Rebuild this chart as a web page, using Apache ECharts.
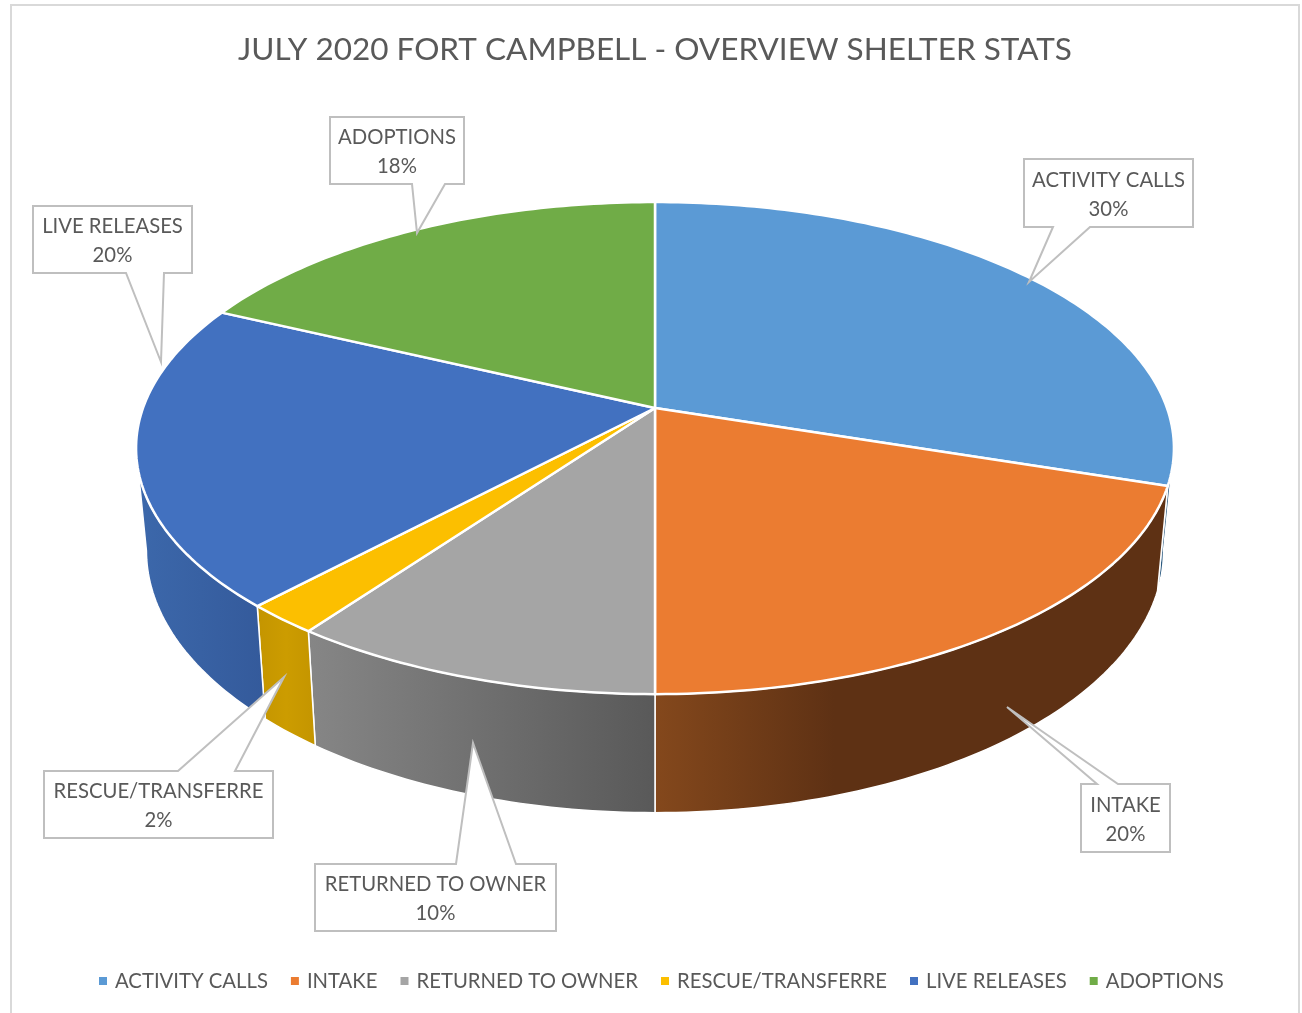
<!DOCTYPE html>
<html>
<head>
<meta charset="utf-8">
<title>JULY 2020 FORT CAMPBELL - OVERVIEW SHELTER STATS</title>
<script src="https://cdn.jsdelivr.net/npm/echarts@6/dist/echarts.min.js"></script>
<style>
  html, body { margin: 0; padding: 0; background: #fff; }
  #main { width: 1302px; height: 1013px; }
</style>
</head>
<body>
<div id="main"></div>
<script>
  // chart data
  const chartTitle = 'JULY 2020 FORT CAMPBELL - OVERVIEW SHELTER STATS'
  const categories = ['ACTIVITY CALLS', 'INTAKE', 'RETURNED TO OWNER', 'RESCUE/TRANSFERRE', 'LIVE RELEASES', 'ADOPTIONS']
  const shares = [30, 20, 10, 2, 20, 18]

  // colours of the top faces and the gradient of the side faces
  const topColors = ['#5b9ad5', '#eb7c31', '#a5a5a5', '#fcbf00', '#4271c0', '#70ac47']
  const sideStops = [
    [[0, '#2c5a80'], [1, '#2c5a80']],
    [[0, '#84481c'], [0.35, '#5e3114'], [1, '#5e3114']],
    [[0, '#868686'], [1, '#595959']],
    [[0, '#c49500'], [0.5, '#cc9c00'], [1, '#c49500']],
    [[0, '#3c68ab'], [1, '#345a9b']],
    [[0, '#70ad47'], [1, '#70ad47']]
  ]

  // callout boxes: [left, top, right, bottom, base1, base2, tipX, tipY, side of the box]
  const callouts = [
    [1024, 159, 1193, 227, 1053, 1090, 1029, 282, 'bottom'],
    [1081, 784, 1170, 852, 1097, 1118, 1007, 707, 'top'],
    [315, 864, 556, 931, 456, 516, 473, 743, 'top'],
    [44, 771, 273, 838, 178, 235, 284, 677, 'top'],
    [33, 206, 192, 273, 126, 164, 161, 362, 'bottom'],
    [330, 117, 464, 184, 412, 445, 417, 233, 'bottom']
  ]

  // perspective of the tilted pie
  const cx = 655, apexY = 408, rimA = 512, rimB = 239.5, tilt = 0.163
  const floorY = 508, floorB = 255, floorScale = 0.98
  const total = shares.reduce((a, b) => a + b, 0)
  const visibleFrom = 99.4, visibleTo = 260.6

  function toDeg(v) { return v / total * 360 }

  // point of the top rim, deg is clockwise from 12 o'clock
  function topPoint(deg) {
    let r = deg * Math.PI / 180
    let X = Math.sin(r), Y = -Math.cos(r)
    let d = 1 - tilt * Y
    return [cx + rimA * X / d, apexY + rimB * Y / d]
  }
  function floorPoint(deg) {
    let r = deg * Math.PI / 180
    let X = Math.sin(r), Y = -Math.cos(r)
    let d = 1 - tilt * Y
    return [cx + floorScale * rimA * X / d, floorY + floorB * Y / d]
  }
  function arc(fn, from, to) {
    let pts = []
    let n = Math.max(2, Math.ceil(Math.abs(to - from)))
    for (let i = 0; i <= n; i++) pts.push(fn(from + (to - from) * i / n))
    return pts
  }

  function renderSlice(i, params, api) {
    let value = api.value(0)
    let before = shares.slice(0, i).reduce((a, b) => a + b, 0)
    let a1 = toDeg(before), a2 = toDeg(before + value)
    let children = []

    // side wall, only the part that faces the viewer
    let s1 = Math.max(a1, visibleFrom), s2 = Math.min(a2, visibleTo)
    if (s2 > s1) {
      let pts = arc(topPoint, s1, s2).concat(arc(floorPoint, s2, s1))
      let xs = pts.map(p => p[0])
      let x0 = Math.min.apply(null, xs), x1 = Math.max.apply(null, xs)
      children.push({
        type: 'polygon',
        z2: 1,
        shape: { points: pts },
        style: {
          fill: {
            type: 'linear', x: x0, y: 0, x2: x1, y2: 0, global: true,
            colorStops: sideStops[i].map(s => ({ offset: s[0], color: s[1] }))
          },
          stroke: '#fff', lineWidth: 1.5, lineJoin: 'round'
        }
      })
    }

    // top face
    children.push({
      type: 'polygon',
      z2: 10,
      shape: { points: [[cx, apexY]].concat(arc(topPoint, a1, a2)) },
      style: { fill: topColors[i], stroke: '#fff', lineWidth: 2.5, lineJoin: 'round' }
    })

    // callout with its wedge
    let c = callouts[i]
    let edge = c[8] === 'top' ? c[1] : c[3]
    let outline = c[8] === 'top'
      ? [[c[0], c[1]], [c[4], edge], [c[6], c[7]], [c[5], edge], [c[2], c[1]], [c[2], c[3]], [c[0], c[3]]]
      : [[c[0], c[1]], [c[2], c[1]], [c[2], c[3]], [c[5], edge], [c[6], c[7]], [c[4], edge], [c[0], c[3]]]
    children.push({
      type: 'polygon',
      z2: 50,
      shape: { points: outline },
      style: { fill: '#fff', stroke: '#bfbfbf', lineWidth: 2, lineJoin: 'miter' }
    })
    let tx = (c[0] + c[2]) / 2, ty = (c[1] + c[3]) / 2
    children.push({
      type: 'text', z2: 60,
      style: {
        x: tx, y: ty - 13, text: categories[i], fill: '#595959',
        font: '20.3px Lato', align: 'center', verticalAlign: 'middle'
      }
    })
    children.push({
      type: 'text', z2: 60,
      style: {
        x: tx, y: ty + 16, text: Math.round(value / total * 100) + '%', fill: '#595959',
        font: '20.3px Lato', align: 'center', verticalAlign: 'middle'
      }
    })
    return { type: 'group', children: children }
  }

  let myChart = echarts.init(document.getElementById('main'), null, { renderer: 'canvas' })

  myChart.setOption({
    animation: false,
    backgroundColor: '#fff',
    color: topColors,
    title: {
      text: chartTitle,
      left: 233,
      top: 29,
      textStyle: { fontFamily: 'Lato', fontSize: 31.5, fontWeight: 'normal', color: '#595959' }
    },
    legend: {
      data: categories,
      left: 94,
      top: 966,
      icon: 'rect',
      itemWidth: 8,
      itemHeight: 8,
      itemGap: 23,
      textStyle: { fontFamily: 'Lato', fontSize: 20.3, color: '#595959', padding: [0, 0, 0, 3] }
    },
    graphic: [{
      type: 'rect',
      silent: true,
      shape: { x: 11, y: 5, width: 1288, height: 1100 },
      style: { fill: 'none', stroke: '#d9d9d9', lineWidth: 2 }
    }],
    series: categories.map((name, i) => ({
      type: 'custom',
      name: name,
      coordinateSystem: 'none',
      silent: true,
      data: [[shares[i]]],
      itemStyle: { color: topColors[i] },
      renderItem: (params, api) => renderSlice(i, params, api)
    }))
  })
</script>
</body>
</html>
